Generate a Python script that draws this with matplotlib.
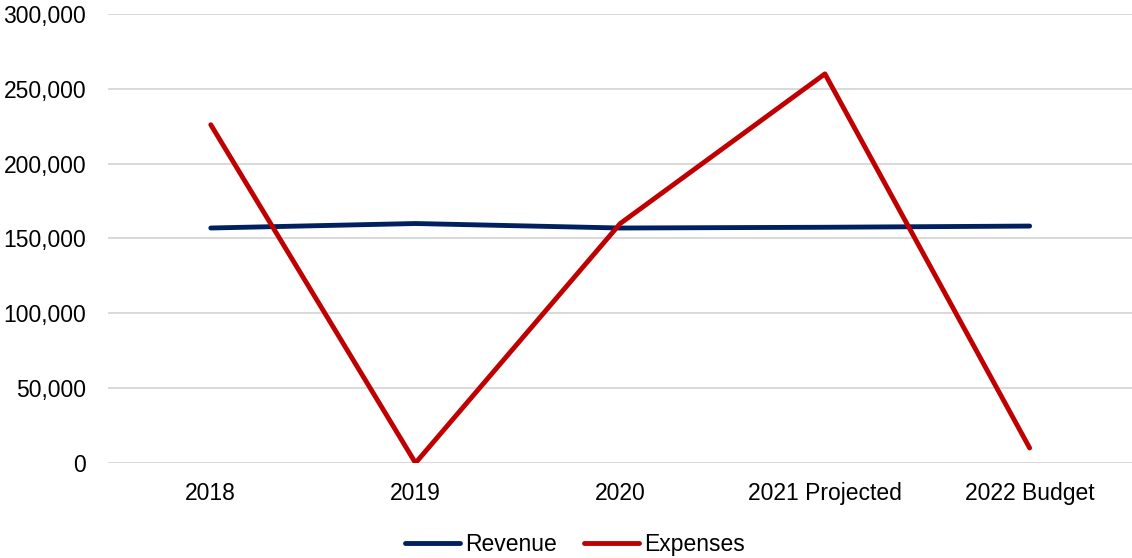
import matplotlib
matplotlib.use("Agg")
import matplotlib.pyplot as plt
from matplotlib.ticker import FuncFormatter

plt.rcParams['font.family'] = ['Liberation Sans', 'DejaVu Sans']

# data
years = ["2018", "2019", "2020", "2021 Projected", "2022 Budget"]
revenue = [157000, 160000, 157000, 157500, 158300]
expenses = [226000, 0, 160000, 260000, 10000]

fig = plt.figure(figsize=(11.32, 5.58), dpi=100)
ax = fig.add_axes([0.0958, 0.1703, 0.9042, 0.8046])

x = range(len(years))
ax.plot(x, revenue, color="#002060", lw=3.5, label="Revenue", solid_capstyle="round")
ax.plot(x, expenses, color="#C00000", lw=3.5, label="Expenses", solid_capstyle="round")

ax.set_xlim(-0.5, len(years) - 0.5)
ax.set_ylim(0, 300000)
ax.set_yticks(range(0, 300001, 50000))
ax.yaxis.set_major_formatter(FuncFormatter(lambda v, p: f"{int(v):,}"))
ax.set_xticks(list(x))
ax.set_xticklabels(years)

ax.grid(axis="y", color="#d9d9d9", lw=1.4)
ax.set_axisbelow(True)
for s in ax.spines.values():
    s.set_visible(False)
ax.tick_params(axis="both", length=0, labelsize=16.5, colors="#000000")
ax.tick_params(axis="y", pad=16)
ax.tick_params(axis="x", pad=14)

leg = fig.legend(loc="center", bbox_to_anchor=(0.508, 0.024), ncol=2, frameon=False,
                 fontsize=16.5, handlelength=2.4, handletextpad=0.2, columnspacing=1.2)

fig.savefig("out.png", dpi=100)
